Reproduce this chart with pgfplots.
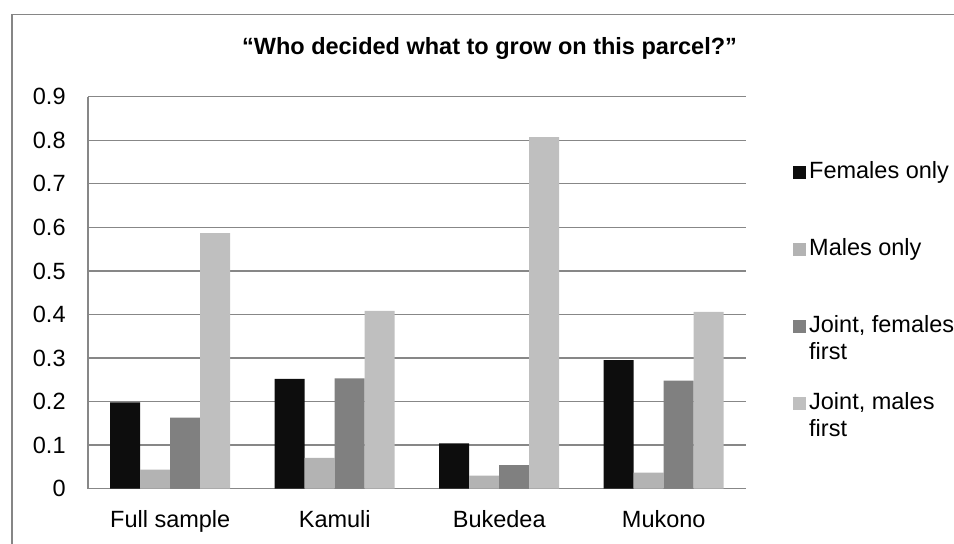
\documentclass[border=0pt]{standalone}
\usepackage{fontspec}
\setmainfont{Liberation Sans}
\usepackage{pgfplots}
\pgfplotsset{compat=1.18}
\definecolor{cF}{HTML}{0D0D0D}
\definecolor{cM}{HTML}{B3B3B3}
\definecolor{cJF}{HTML}{808080}
\definecolor{cJM}{HTML}{BFBFBF}
\definecolor{gridc}{HTML}{878787}
\definecolor{borderc}{HTML}{868686}
\newcommand{\legtxt}[1]{\parbox[t]{110pt}{\strut #1}}
\begin{document}
\fontsize{11.75}{13.5}\selectfont
\begin{tikzpicture}
\useasboundingbox (-44pt,-27.65pt) rectangle (433pt,244.35pt);
\clip (-44pt,-27.65pt) rectangle (433pt,244.35pt);
\draw[borderc, line width=0.65pt] (-38pt,-80pt) rectangle (480pt,237pt);
\begin{axis}[
  at={(0,0)}, anchor=south west,
  scale only axis, width=329pt, height=196pt,
  ymin=0, ymax=0.9, ytick={0,0.1,0.2,0.3,0.4,0.5,0.6,0.7,0.8,0.9},
  xmin=-0.5, xmax=3.5,
  xtick={0,1,2,3}, xticklabels={Full sample,Kamuli,Bukedea,Mukono},
  ybar=0pt, bar width=15pt,
  axis x line*=bottom, axis y line*=left,
  axis line style={gridc, line width=0.65pt, -},
  ymajorgrids, grid style={gridc, line width=0.65pt},
  major tick length=0pt,
  tick label style={font=\fontsize{11.75}{13.5}\selectfont},
  /pgf/number format/assume math mode=true,
  yticklabel={\pgfmathprintnumber[fixed,precision=1]{\tick}},
  yticklabel style={anchor=east, inner sep=0pt, xshift=-11pt},
  xticklabel style={anchor=base, inner sep=0pt, yshift=-19.3pt},
  title={\bfseries \textquotedblleft Who decided what to grow on this parcel?\textquotedblright},
  title style={at={(axis description cs:0.6102,1)}, anchor=base, inner sep=0pt, yshift=15.2pt, font=\fontsize{11.75}{13.5}\selectfont\bfseries},
  legend image code/.code={\fill[#1,draw=none] (0pt,0pt) rectangle (6.5pt,6.5pt);},
  legend style={draw=none, fill=none, inner sep=0pt, outer sep=0pt,
    at={(1.0714,0.8383)}, anchor=north west,
    row sep=8.45pt, column sep=1.6pt,
    nodes={inner sep=0pt, text height=9.45pt, text depth=20.55pt, font=\fontsize{11.75}{13.5}\selectfont},
    cells={anchor=base west}},
]
\addplot[fill=cF, draw=none] coordinates {(0,0.198) (1,0.252) (2,0.104) (3,0.295)};
\addlegendentry{\legtxt{Females only}}
\addplot[fill=cM, draw=none] coordinates {(0,0.044) (1,0.071) (2,0.030) (3,0.037)};
\addlegendentry{\legtxt{Males only}}
\addplot[fill=cJF, draw=none] coordinates {(0,0.163) (1,0.253) (2,0.054) (3,0.248)};
\addlegendentry{\legtxt{Joint, females\\first}}
\addplot[fill=cJM, draw=none] coordinates {(0,0.587) (1,0.408) (2,0.807) (3,0.406)};
\addlegendentry{\legtxt{Joint, males\\first}}
\end{axis}
\end{tikzpicture}
\end{document}
